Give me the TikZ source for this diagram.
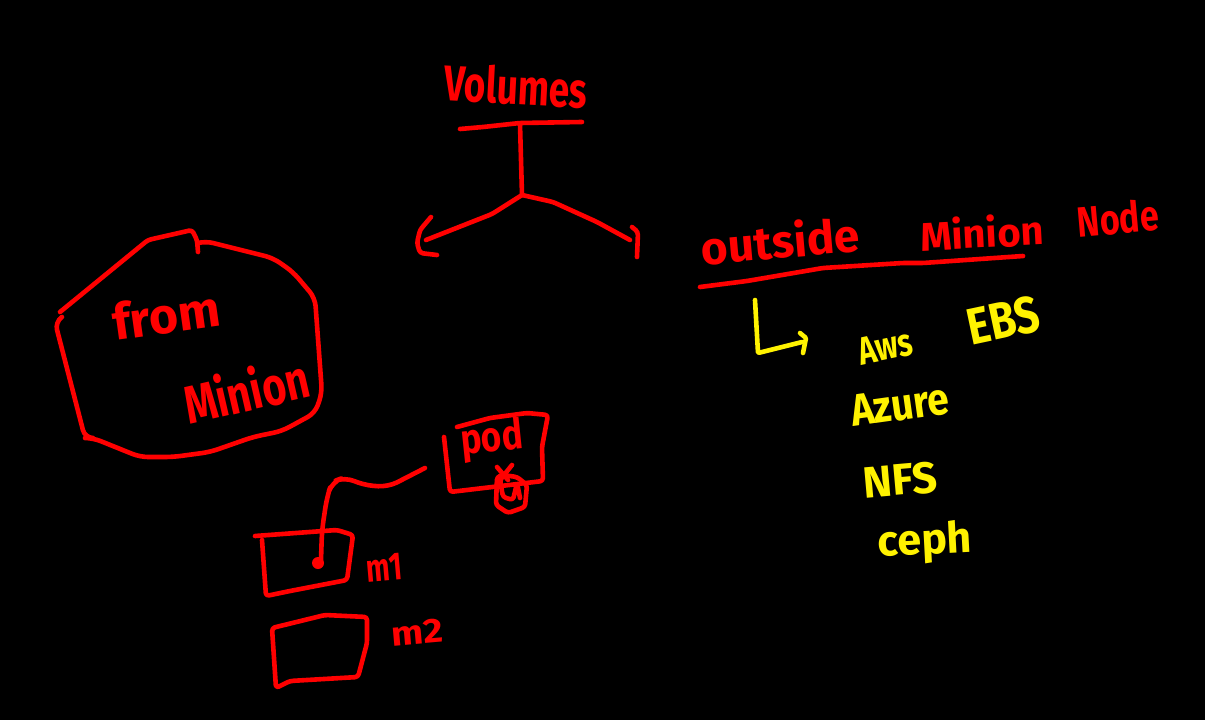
\documentclass[tikz,border=0pt]{standalone}
\usepackage{fontspec}
\setmainfont{Fira Sans}
\usepackage{graphicx}
\usepackage{tikz}
\usetikzlibrary{calc}
\tikzset{
  redink/.style={draw=red,line width=4.6pt,rounded corners=3pt},
  yellowink/.style={draw=yellow,line width=4.6pt,rounded corners=1pt},
  redword/.style={text=red,inner sep=0pt,font=\bfseries\fontsize{#1}{#1}\selectfont},
  yellowword/.style={text=yellow,inner sep=0pt,font=\bfseries\fontsize{#1}{#1}\selectfont}
}
\begin{document}
\begin{tikzpicture}[x=1pt,y=-1pt,line cap=round,line join=round]
            \fill[black] (0,0) rectangle (1205,720);
            \useasboundingbox (0,0) rectangle (1205,720);
            % volumes tree
            \node[redword=37] (volumes) at (516,86) [rotate=-3] {\scalebox{1}[1.35]{Volumes}};
            \coordinate (top) at (520,124);
            \coordinate (fork) at (522,195);
            \draw[redink] (460,129) -- (483,127) -- (520,123) -- (582,122);
            \draw[redink] (top) -- (fork);
            \draw[redink] (fork) -- (492,214) -- (426,240);
            \draw[redink] (431,217) -- (420,230) -- (417,243) -- (420,253) -- (437,255);
            \draw[redink] (fork) -- (553,202) -- (597,222) -- (630,240);
            \draw[redink] (632,227) -- (638,232) -- (637,257);
            % outside minion node
            \node[redword=46] (outside) at (780,240) [rotate=5] {outside};
            \node[redword=40] (minionb) at (982,232) [rotate=3] {Minion};
            \node[redword=34] (nodeword) at (1118,218) [rotate=5] {\scalebox{1}[1.25]{Node}};
            \draw[redink] (700,287) -- (747,281) -- (823,268) -- (903,263) -- (923,263) -- (1023,256);
            % storage list
            \draw[yellowink] (755,300) -- (758,353) -- (802,342);
            \draw[yellowink] (800,333) -- (806,338) -- (803,353);
            \node[yellowword=30] (aws) at (885,347) [rotate=12] {\scalebox{1}[1.3]{Aws}};
            \node[yellowword=43] (ebs) at (1003,320) [rotate=12] {\scalebox{1}[1.2]{EBS}};
            \node[yellowword=39] (azure) at (900,405) [rotate=8] {\scalebox{1}[1.15]{Azure}};
            \node[yellowword=44] (nfs) at (900,480) [rotate=5] {NFS};
            \node[yellowword=43] (ceph) at (925,543) [rotate=3] {ceph};
            % from minion
            \draw[redink] (60,312) -- (148,240) -- (192,230) -- (197,240) -- (198,252);
            \draw[redink,rounded corners=8pt] (198,243) -- (205,241) -- (273,258) -- (293,272) -- (315,298) -- (322,393)
              -- (315,413) -- (282,431) -- (253,437) -- (210,452) -- (173,457) -- (140,457)
              -- (93,438) -- (85,438) -- (55,322) -- (62,317);
            \node[redword=50] (from) at (166,315) [rotate=8] {from};
            \node[redword=41] (minion) at (246,390) [rotate=13] {\scalebox{1}[1.3]{Minion}};
            % pod and machines
            \draw[redink] (457,427) -- (490,418) -- (527,413) -- (548,415) -- (542,447) -- (543,481)
              -- (450,492) -- (444,437);
            \node[redword=35] (pod) at (492,440) [rotate=6] {\scalebox{1}[1.2]{pod}};
            \draw[redink] (503,475) -- (497,477) -- (496,505) -- (508,513) -- (525,507) -- (527,485)
              -- (517,477) -- (503,475);
            \draw[redink] (497,467) -- (508,480);
            \draw[redink] (512,465) -- (500,480) -- (503,497) -- (513,500) -- (517,483) -- (520,498);
            \coordinate (podend) at (425,468);
            \coordinate (mdot) at (318,563);
            \draw[redink,rounded corners=10pt] (podend) -- (388,487) -- (363,485) -- (345,477) -- (332,482) -- (327,497)
              -- (322,530) -- (321,560);
            \fill[red] (mdot) circle (6);
            \draw[redink] (255,536) -- (337,530) -- (353,535) -- (347,580) -- (290,591) -- (266,596) -- (262,540);
            \draw[redink] (272,628) -- (325,615) -- (367,617) -- (367,643) -- (358,677) -- (290,681)
              -- (276,688) -- cycle;
            \node[redword=28] (mone) at (384,568) [rotate=5] {\scalebox{1}[1.4]{m1}};
            \node[redword=38] (mtwo) at (417,632) [rotate=5] {\scalebox{1}[.9]{m2}};
\end{tikzpicture}
\end{document}
